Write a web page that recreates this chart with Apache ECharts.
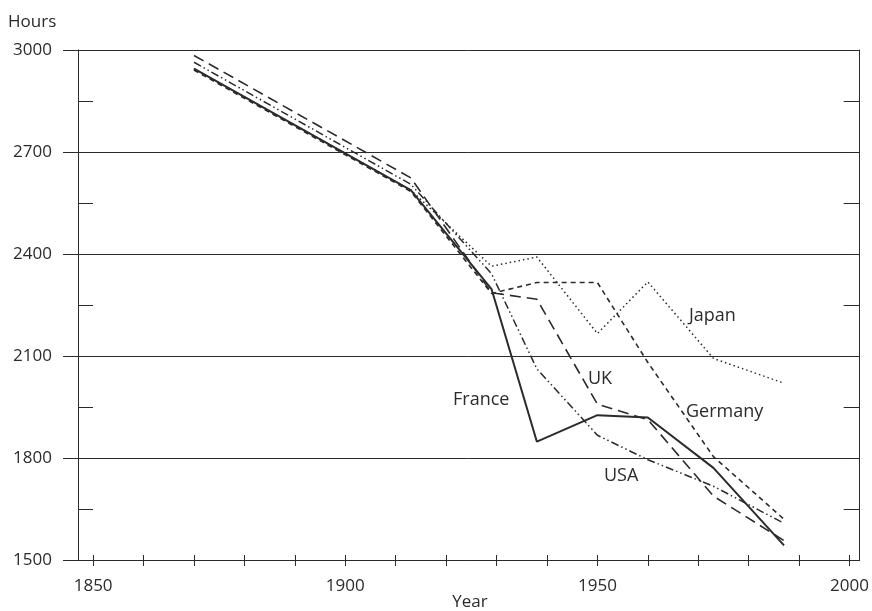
<!DOCTYPE html>
<html><head><meta charset="utf-8">
<script src="https://cdn.jsdelivr.net/npm/echarts@6/dist/echarts.min.js"></script>
<style>html,body{margin:0;padding:0;background:#fff}#c{width:872px;height:611px}</style>
</head><body><div id="c"></div>
<script>
// Hours worked per person employed
const years   = [1870, 1913, 1929, 1938, 1950, 1960, 1973, 1987];
const france  = [2945, 2588, 2297, 1848, 1926, 1919, 1771, 1543];
const germany = [2941, 2584, 2284, 2316, 2316, 2081, 1804, 1620];
const japan   = [2945, 2588, 2364, 2391, 2166, 2318, 2093, 2020];
const uk      = [2984, 2624, 2286, 2267, 1958, 1913, 1688, 1557];
const usa     = [2964, 2605, 2342, 2062, 1867, 1795, 1717, 1608];
const xTickValues  = [1850, 1860, 1870, 1880, 1890, 1900, 1910, 1920, 1930, 1940, 1950, 1960, 1970, 1980, 1990, 2000];
const xLabelValues = [1850, 1900, 1950, 2000];

const FONT = '"Open Sans"';
const ink = '#2b2b2b';
const chart = echarts.init(document.getElementById('c'), null, {renderer: 'canvas'});

function line(name, vals, type, width) {
  return {
    name: name, type: 'line', xAxisIndex: 0, yAxisIndex: 0,
    data: years.map((y, i) => [y, vals[i]]),
    symbol: 'none', silent: true,
    lineStyle: {color: ink, width: width, type: type, cap: 'butt'}
  };
}

function label(text, x, y) {
  return {type: 'text', x: x, y: y, silent: true,
    style: {text: text, font: '18px ' + FONT, fill: ink,
            align: 'left', textAlign: 'left', verticalAlign: 'middle', textVerticalAlign: 'middle'}};
}
const plain = v => String(v);

chart.setOption({
  animation: false,
  backgroundColor: '#fff',
  grid: {left: 78, right: 12, top: 50, bottom: 51},
  xAxis: [
    {type: 'value', position: 'bottom', min: 1847, max: 2002,
     axisLine: {show: true, lineStyle: {color: ink, width: 1}},
     axisTick: {show: true, customValues: xTickValues, length: 6, lineStyle: {color: ink, width: 1}},
     axisLabel: {show: true, customValues: xLabelValues, formatter: plain, margin: 18, fontFamily: FONT, fontSize: 17, color: ink},
     splitLine: {show: false}},
    {type: 'value', position: 'bottom', min: 1847, max: 2002,
     axisLine: {show: false},
     axisTick: {show: true, inside: true, customValues: xTickValues, length: 5, lineStyle: {color: ink, width: 1}},
     axisLabel: {show: false}, splitLine: {show: false}}
  ],
  yAxis: [
    {type: 'value', position: 'left', min: 1500, max: 3000, interval: 300,
     axisLine: {show: true, lineStyle: {color: ink, width: 1}},
     axisTick: {show: true, length: 15, lineStyle: {color: ink, width: 1}},
     axisLabel: {margin: 26, formatter: plain, fontFamily: FONT, fontSize: 17, color: ink},
     splitLine: {show: true, lineStyle: {color: ink, width: 1}}},
    {type: 'value', position: 'left', min: 1500, max: 3000, interval: 150,
     axisLine: {show: false},
     axisTick: {show: true, inside: true, length: 15, lineStyle: {color: ink, width: 1}},
     axisLabel: {show: false}, splitLine: {show: false}},
    {type: 'value', position: 'right', min: 1500, max: 3000, interval: 150,
     axisLine: {show: true, lineStyle: {color: ink, width: 1}},
     axisTick: {show: true, inside: true, length: 16, lineStyle: {color: ink, width: 1}},
     axisLabel: {show: false}, splitLine: {show: false}}
  ],
  series: [
    line('Japan', japan, [1.5, 3], 1.5),
    line('Germany', germany, [5, 4], 1.6),
    line('USA', usa, [8, 3, 1.5, 3, 1.5, 3], 1.5),
    line('UK', uk, [11, 6], 1.6),
    line('France', france, 'solid', 2)
  ],
  graphic: [
    {type: 'text', x: 8, y: 22, silent: true,
     style: {text: 'Hours', font: '17px ' + FONT, fill: ink, align: 'left', textAlign: 'left', verticalAlign: 'middle', textVerticalAlign: 'middle'}},
    {type: 'text', x: 470, y: 602, silent: true,
     style: {text: 'Year', font: '17px ' + FONT, fill: ink, align: 'center', textAlign: 'center', verticalAlign: 'middle', textVerticalAlign: 'middle'}},
    label('France', 453, 400),
    label('UK', 588, 379),
    label('Japan', 689, 316),
    label('Germany', 686, 412),
    label('USA', 604, 476)
  ]
});
</script></body></html>
